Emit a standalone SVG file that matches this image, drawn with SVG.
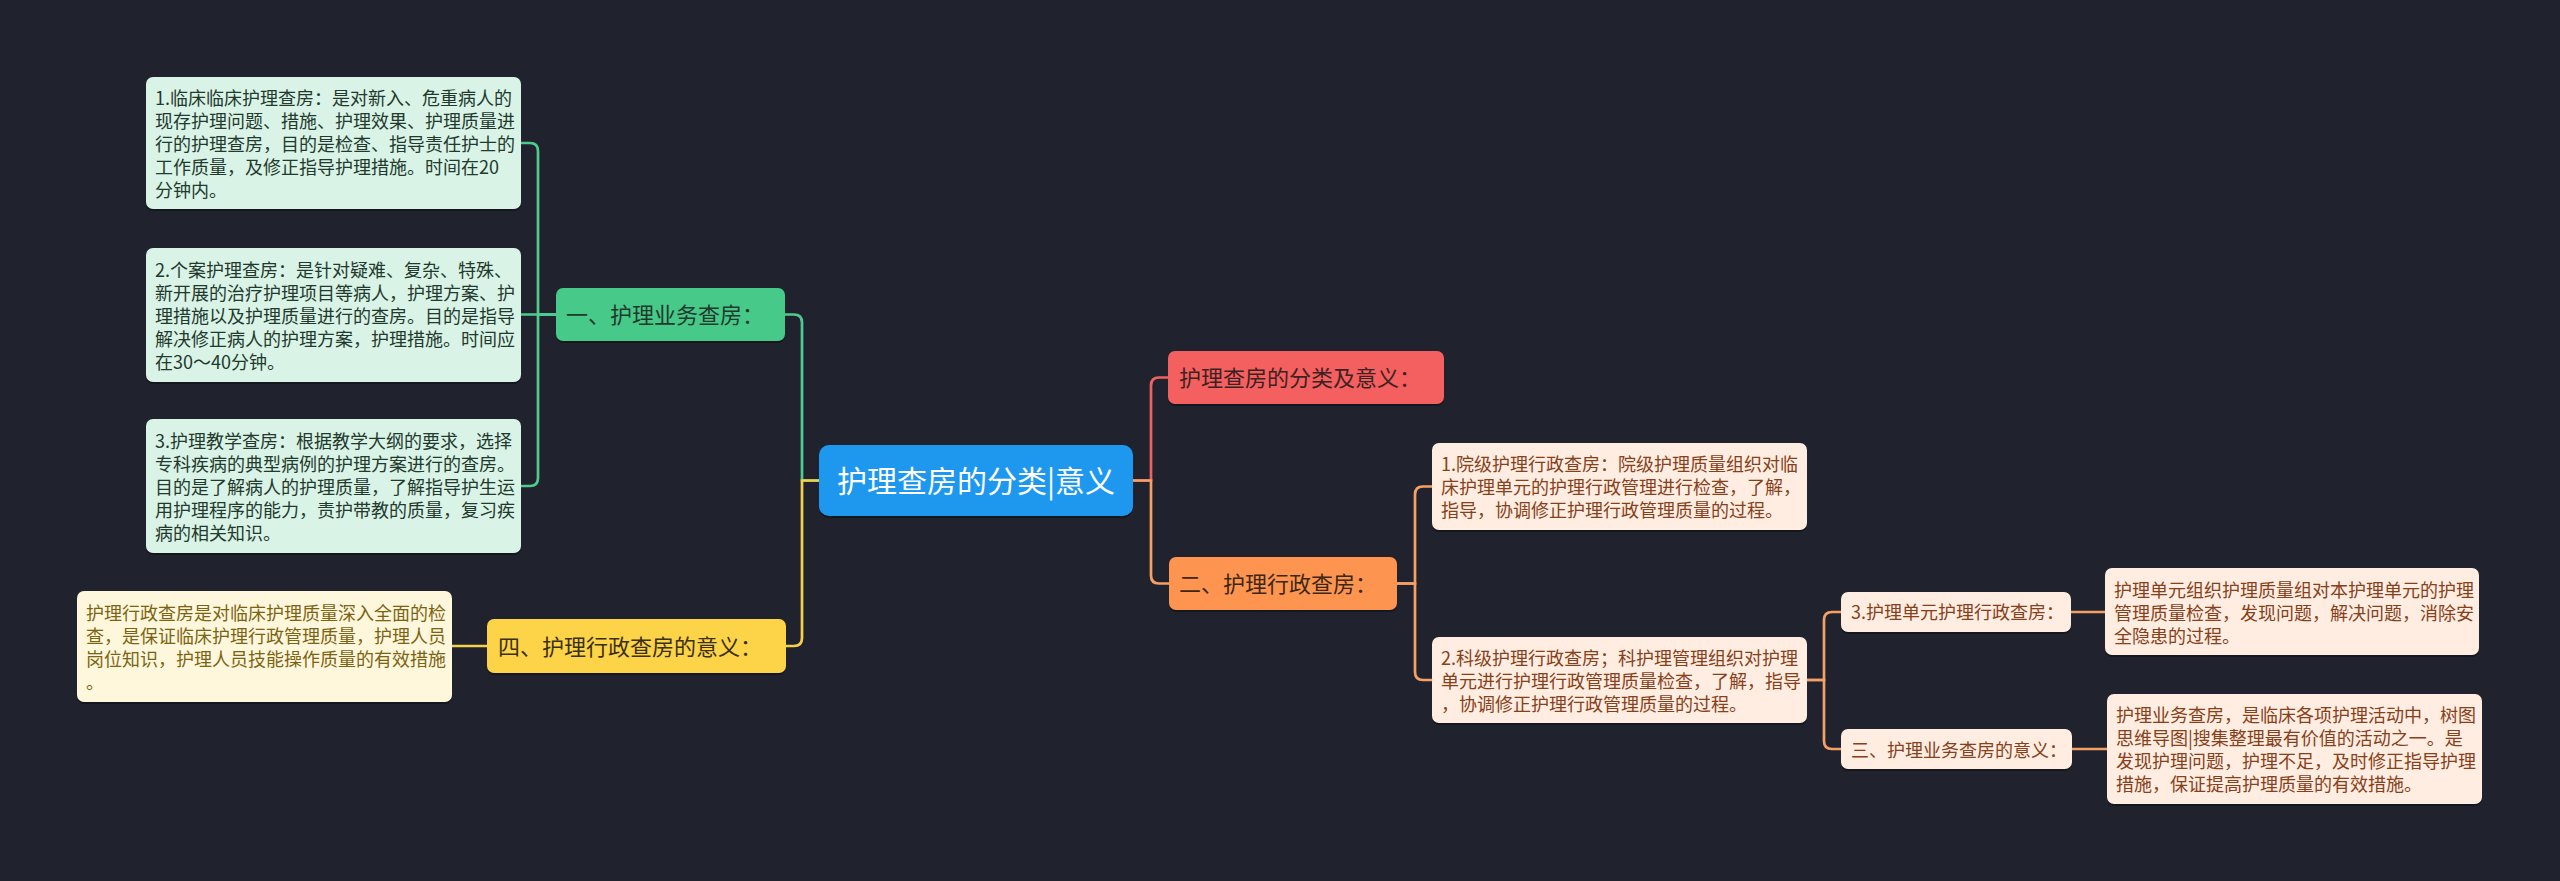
<svg xmlns="http://www.w3.org/2000/svg" width="2560" height="881" viewBox="0 0 2560 881">
<style>
text{font-family:"Noto Sans CJK SC","Noto Sans",sans-serif;}
.l{font-size:18px;}
.b{font-size:22px;}
.c{font-size:30px;fill:#ffffff;}
.gl{fill:#d9f3e6;}
.gt{fill:#22392d;}
.yl{fill:#fff7dc;}
.yt{fill:#7a6412;}
.ol{fill:#ffede1;}
.ot{fill:#86401a;}
.conn path{fill:none;stroke-width:2.7;stroke-linecap:round;}
.g{stroke:#4ecb8e;}
.y{stroke:#f7d04a;}
.r{stroke:#ee6262;}
.o{stroke:#f5a064;}
.sh{fill:#15171f;}
</style>
<rect x="0" y="0" width="2560" height="881" fill="#20232e"/>
<g id="connectors" class="conn">
<path class="g" d="M819 480.5 H802 V322.5 Q802 314.5 794 314.5 H785"/>
<path class="y" d="M819 480.5 H802 V638 Q802 646 794 646 H786"/>
<path class="g" d="M556 314.5 H538 V151 Q538 143 530 143 H521"/>
<path class="g" d="M556 314.5 H521"/>
<path class="g" d="M556 314.5 H538 V478 Q538 486 530 486 H521"/>
<path class="y" d="M487 646 H452"/>
<path class="r" d="M1133 480.5 H1151 V385.5 Q1151 377.5 1159 377.5 H1168"/>
<path class="o" d="M1133 480.5 H1151 V575.5 Q1151 583.5 1159 583.5 H1169"/>
<path class="o" d="M1397 583.5 H1415 V494.5 Q1415 486.5 1423 486.5 H1432"/>
<path class="o" d="M1397 583.5 H1415 V672 Q1415 680 1423 680 H1432"/>
<path class="o" d="M1807 680 H1824 V620 Q1824 612 1832 612 H1841"/>
<path class="o" d="M1807 680 H1824 V741 Q1824 749 1832 749 H1841"/>
<path class="o" d="M2071 612 H2105"/>
<path class="o" d="M2072 749 H2107"/>
</g>
<g id="root">
<rect class="sh" x="819" y="447" width="314" height="71" rx="10"/>
<rect x="819" y="445" width="314" height="71" rx="10" fill="#1d98ee"/>
<text class="c" x="976" y="492" text-anchor="middle">护理查房的分类|意义</text>
</g>
<g id="b1">
<rect class="sh" x="556" y="290" width="229" height="53" rx="7"/>
<rect x="556" y="288" width="229" height="53" rx="7" fill="#47c98a"/>
<text class="b" x="566" y="323" fill="#1f3a2b">一、护理业务查房：</text>
</g>
<g id="b1n1">
<rect class="sh" x="146" y="79" width="375" height="132" rx="7"/>
<rect class="gl" x="146" y="77" width="375" height="132" rx="7"/>
<text class="l gt" x="155"><tspan x="155" y="105">1.临床临床护理查房：是对新入、危重病人的</tspan><tspan x="155" y="128">现存护理问题、措施、护理效果、护理质量进</tspan><tspan x="155" y="151">行的护理查房，目的是检查、指导责任护士的</tspan><tspan x="155" y="174">工作质量，及修正指导护理措施。时间在20</tspan><tspan x="155" y="197">分钟内。</tspan></text>
</g>
<g id="b1n2">
<rect class="sh" x="146" y="250" width="375" height="134" rx="7"/>
<rect class="gl" x="146" y="248" width="375" height="134" rx="7"/>
<text class="l gt"><tspan x="155" y="277">2.个案护理查房：是针对疑难、复杂、特殊、</tspan><tspan x="155" y="300">新开展的治疗护理项目等病人，护理方案、护</tspan><tspan x="155" y="323">理措施以及护理质量进行的查房。目的是指导</tspan><tspan x="155" y="346">解决修正病人的护理方案，护理措施。时间应</tspan><tspan x="155" y="369">在30～40分钟。</tspan></text>
</g>
<g id="b1n3">
<rect class="sh" x="146" y="421" width="375" height="134" rx="7"/>
<rect class="gl" x="146" y="419" width="375" height="134" rx="7"/>
<text class="l gt"><tspan x="155" y="448">3.护理教学查房：根据教学大纲的要求，选择</tspan><tspan x="155" y="471">专科疾病的典型病例的护理方案进行的查房。</tspan><tspan x="155" y="494">目的是了解病人的护理质量，了解指导护生运</tspan><tspan x="155" y="517">用护理程序的能力，责护带教的质量，复习疾</tspan><tspan x="155" y="540">病的相关知识。</tspan></text>
</g>
<g id="b4">
<rect class="sh" x="487" y="621" width="299" height="54" rx="7"/>
<rect x="487" y="619" width="299" height="54" rx="7" fill="#fdd348"/>
<text class="b" x="498" y="655" fill="#3a3014">四、护理行政查房的意义：</text>
</g>
<g id="b4n1">
<rect class="sh" x="77" y="593" width="375" height="111" rx="7"/>
<rect class="yl" x="77" y="591" width="375" height="111" rx="7"/>
<text class="l yt"><tspan x="86" y="620">护理行政查房是对临床护理质量深入全面的检</tspan><tspan x="86" y="643">查，是保证临床护理行政管理质量，护理人员</tspan><tspan x="86" y="666">岗位知识，护理人员技能操作质量的有效措施</tspan><tspan x="86" y="689">。</tspan></text>
</g>
<g id="b2">
<rect class="sh" x="1168" y="353" width="276" height="53" rx="7"/>
<rect x="1168" y="351" width="276" height="53" rx="7" fill="#f45f5f"/>
<text class="b" x="1179" y="386" fill="#3d2222">护理查房的分类及意义：</text>
</g>
<g id="b3">
<rect class="sh" x="1169" y="559" width="228" height="53" rx="7"/>
<rect x="1169" y="557" width="228" height="53" rx="7" fill="#fd9551"/>
<text class="b" x="1179" y="592" fill="#3d2713">二、护理行政查房：</text>
</g>
<g id="b3n1">
<rect class="sh" x="1432" y="445" width="375" height="87" rx="7"/>
<rect class="ol" x="1432" y="443" width="375" height="87" rx="7"/>
<text class="l ot"><tspan x="1441" y="471">1.院级护理行政查房：院级护理质量组织对临</tspan><tspan x="1441" y="494">床护理单元的护理行政管理进行检查，了解，</tspan><tspan x="1441" y="517">指导，协调修正护理行政管理质量的过程。</tspan></text>
</g>
<g id="b3n2">
<rect class="sh" x="1432" y="639" width="375" height="86" rx="7"/>
<rect class="ol" x="1432" y="637" width="375" height="86" rx="7"/>
<text class="l ot"><tspan x="1441" y="665">2.科级护理行政查房；科护理管理组织对护理</tspan><tspan x="1441" y="688">单元进行护理行政管理质量检查，了解，指导</tspan><tspan x="1441" y="711">，协调修正护理行政管理质量的过程。</tspan></text>
</g>
<g id="b3n2a">
<rect class="sh" x="1841" y="594" width="230" height="40" rx="7"/>
<rect class="ol" x="1841" y="592" width="230" height="40" rx="7"/>
<text class="l ot" x="1851" y="619">3.护理单元护理行政查房：</text>
</g>
<g id="b3n2b">
<rect class="sh" x="1841" y="731" width="231" height="40" rx="7"/>
<rect class="ol" x="1841" y="729" width="231" height="40" rx="7"/>
<text class="l ot" x="1851" y="757">三、护理业务查房的意义：</text>
</g>
<g id="b3n2a1">
<rect class="sh" x="2105" y="570" width="374" height="87" rx="7"/>
<rect class="ol" x="2105" y="568" width="374" height="87" rx="7"/>
<text class="l ot"><tspan x="2114" y="597">护理单元组织护理质量组对本护理单元的护理</tspan><tspan x="2114" y="620">管理质量检查，发现问题，解决问题，消除安</tspan><tspan x="2114" y="643">全隐患的过程。</tspan></text>
</g>
<g id="b3n2b1">
<rect class="sh" x="2107" y="696" width="375" height="110" rx="7"/>
<rect class="ol" x="2107" y="694" width="375" height="110" rx="7"/>
<text class="l ot"><tspan x="2116" y="722">护理业务查房，是临床各项护理活动中，树图</tspan><tspan x="2116" y="745">思维导图|搜集整理最有价值的活动之一。是</tspan><tspan x="2116" y="768">发现护理问题，护理不足，及时修正指导护理</tspan><tspan x="2116" y="791">措施，保证提高护理质量的有效措施。</tspan></text>
</g>
</svg>
